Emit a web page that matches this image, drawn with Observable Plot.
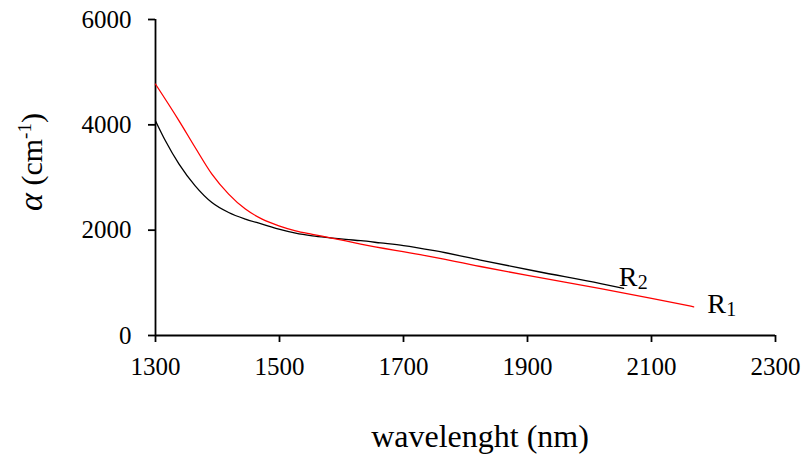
<!DOCTYPE html>
<html><head><meta charset="utf-8">
<script src="https://cdn.jsdelivr.net/npm/d3@7"></script>
<script src="https://cdn.jsdelivr.net/npm/@observablehq/plot@0.6"></script>
</head><body style="margin:0;background:#fff;"><div id="chart" style="width:804px;height:459px;font-family:'Liberation Serif',serif;"></div>
<script>
const r1Wavelength = [1300,1338,1364,1391,1418,1445,1472,1499,1526,1553,1582,1607,1631,1727,1824,1900,2018,2100,2168];
const r1Alpha      = [4773,4076,3570,3064,2685,2400,2210,2083,1988,1922,1855,1795,1735,1535,1310,1140,890,705,545];
const r2Wavelength = [1300,1316,1338,1364,1391,1418,1445,1472,1499,1526,1553,1582,1607,1631,1663,1700,1750,1824,1916,2018,2055];
const r2Alpha      = [4076,3697,3254,2842,2525,2335,2210,2115,2020,1944,1893,1855,1825,1800,1758,1708,1610,1432,1215,985,895];
const seriesLabels = [{name:"R", sub:"1", x:2190, y:418},{name:"R", sub:"2", x:2047, y:944}];
const xTicks = [1300,1500,1700,1900,2100,2300];
const yTicks = [0,2000,4000,6000];

const r1 = r1Wavelength.map((x,i)=>({x, y:r1Alpha[i]}));
const r2 = r2Wavelength.map((x,i)=>({x, y:r2Alpha[i]}));
const serif = "'Liberation Serif', 'Times New Roman', serif";

const plot = Plot.plot({
  width:804, height:459,
  marginLeft:155, marginRight:29, marginTop:19, marginBottom:124,
  x:{domain:[1300,2300]},
  y:{domain:[0,6000]},
  style:{fontFamily:serif, fontSize:"25px", color:"black", background:"white", overflow:"visible"},
  marks:[
    Plot.axisX({ticks:xTicks, tickSize:7, tickPadding:15, label:null, fontSize:25, strokeWidth:1.8, tickFormat:d=>String(d)}),
    Plot.axisY({ticks:yTicks, tickSize:7, tickPadding:17, label:null, fontSize:25, strokeWidth:1.8, tickFormat:d=>String(d)}),
    Plot.ruleY([0],{stroke:"black", strokeWidth:1.8}),
    Plot.ruleX([1300],{stroke:"black", strokeWidth:1.8}),
    Plot.line(r2,{x:"x", y:"y", stroke:"black", strokeWidth:1.3, curve:"monotone-x"}),
    Plot.line(r1,{x:"x", y:"y", stroke:"#ff0000", strokeWidth:1.3, curve:"monotone-x"}),
    Plot.text(seriesLabels,{x:"x", y:"y", text:"name", textAnchor:"start", lineAnchor:"bottom", fontSize:28, fill:"black"}),
    Plot.text(seriesLabels,{x:"x", y:"y", text:"sub", textAnchor:"start", lineAnchor:"bottom", fontSize:20, dx:19, dy:3, fill:"black"})
  ]
});
document.getElementById("chart").appendChild(plot);

const svg = d3.select(plot);
svg.append("text")
  .attr("x", 480).attr("y", 447)
  .attr("text-anchor","middle")
  .attr("font-size", 32)
  .attr("fill","black")
  .text("wavelenght (nm)");
const yl = svg.append("text")
  .attr("transform","translate(42,162) rotate(-90)")
  .attr("text-anchor","middle")
  .attr("font-size", 30)
  .attr("fill","black");
yl.append("tspan").attr("font-style","italic").attr("font-size",34).text("α");
yl.append("tspan").text(" (cm");
yl.append("tspan").attr("font-size",19).attr("dy",-11).text("-1");
yl.append("tspan").attr("dy",11).text(")");

svg.style("font-family", serif, "important");
svg.selectAll("g, text, tspan").attr("font-family", "Liberation Serif").style("font-family", serif, "important");
</script>
</body></html>
